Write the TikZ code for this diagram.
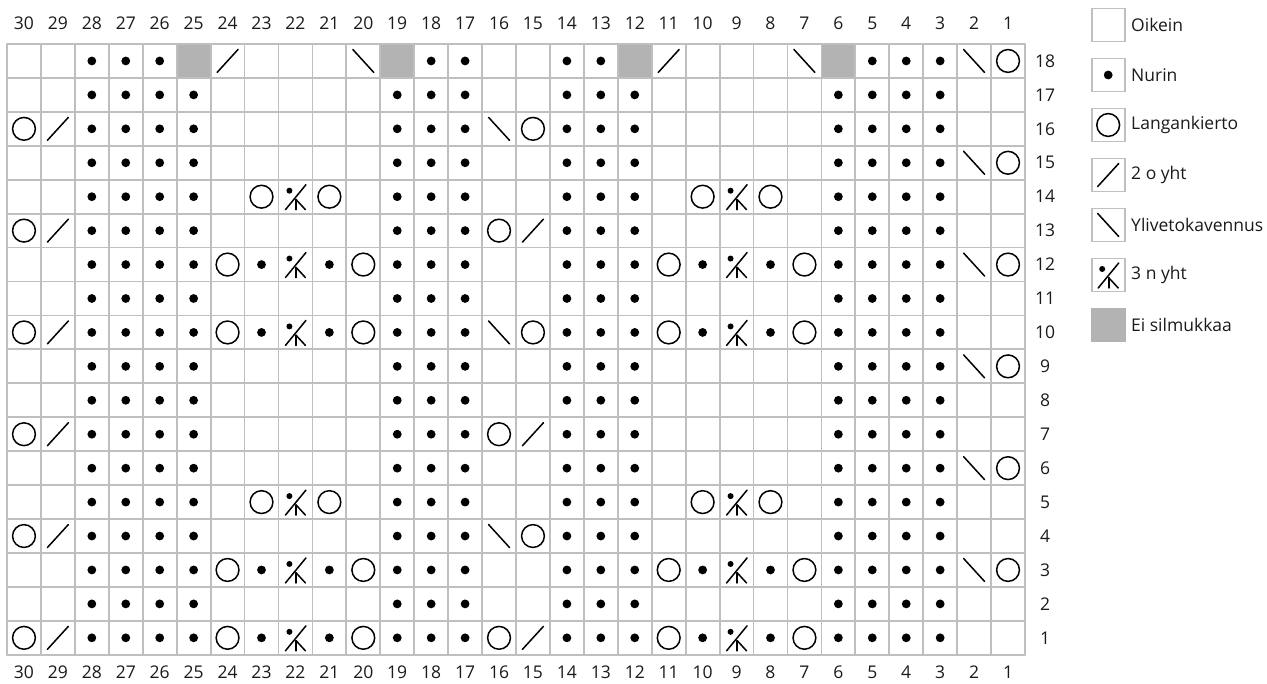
\documentclass[tikz,border=0pt]{standalone}
\usepackage{fontspec}
\setmainfont{Open Sans}
\definecolor{gridgray}{HTML}{BFBFBF}
\definecolor{nostgray}{HTML}{B3B3B3}
\definecolor{labelcol}{HTML}{1A1A1A}
\begin{document}
\begin{tikzpicture}[x=1pt,y=-1pt,line cap=round]
\useasboundingbox (0,0) rectangle (1267,684);
\def\cw{33.933}
\tikzset{
  gridln/.style={draw=gridgray,line width=1.8pt},
  sym/.style={line width=1.5pt,draw=black},
  lbl/.style={font=\fontsize{17.5}{21}\selectfont,text=labelcol,inner sep=0pt},
  legbox/.style={draw=gridgray,line width=1.8pt,minimum size=33pt,inner sep=0pt},
  pics/purl/.style={code={\fill[black] (0,0) circle (4.4);}},
  pics/yo/.style={code={\draw[sym] (0,0) circle (11.4);}},
  pics/ktwo/.style={code={\draw[sym] (-10.5,11.5) -- (10.5,-11.5);}},
  pics/ssk/.style={code={\draw[sym] (-10.5,-11.5) -- (10.5,11.5);}},
  pics/pthree/.style={code={
      \fill[black] (-6,-6) circle (3);
      \draw[sym] (10.5,-12) -- (-10,13);
      \draw[sym] (0.6,2.8) -- (0.6,13);
      \draw[sym] (0.6,2.8) -- (10,13);}},
}
% no-stitch cells
\foreach \c in {25,19,12,6}
  \fill[nostgray] ({7+(30-\c)*\cw},44) rectangle ++(\cw,\cw);
% grid
\foreach \i in {0,...,30}
  \draw[gridln] ({7+\i*\cw},44) -- ({7+\i*\cw},{44+18*\cw});
\foreach \j in {0,...,18}
  \draw[gridln] (7,{44+\j*\cw}) -- ({7+30*\cw},{44+\j*\cw});
% purl stitches
\foreach \r in {1,...,17}
  \foreach \c in {28,27,26,25,19,18,17,14,13,12,6,5,4,3}
    \pic at ({7+(30.5-\c)*\cw},{44+(18.5-\r)*\cw}) {purl};
\foreach \c in {28,27,26,18,17,14,13,5,4,3}
  \pic at ({7+(30.5-\c)*\cw},{44+0.5*\cw}) {purl};
\foreach \r in {12,10,3,1}
  \foreach \c in {23,21,10,8}
    \pic at ({7+(30.5-\c)*\cw},{44+(18.5-\r)*\cw}) {purl};
% yarn overs
\foreach \c/\r in {1/18,30/16,15/16,1/15,23/14,21/14,10/14,8/14,30/13,16/13,
  24/12,20/12,11/12,7/12,1/12,30/10,24/10,20/10,15/10,11/10,7/10,1/9,
  30/7,16/7,1/6,23/5,21/5,10/5,8/5,30/4,15/4,24/3,20/3,11/3,7/3,1/3,
  30/1,24/1,20/1,16/1,11/1,7/1}
  \pic at ({7+(30.5-\c)*\cw},{44+(18.5-\r)*\cw}) {yo};
% k2tog
\foreach \c/\r in {24/18,11/18,29/16,29/13,15/13,29/10,29/7,15/7,29/4,29/1,15/1}
  \pic at ({7+(30.5-\c)*\cw},{44+(18.5-\r)*\cw}) {ktwo};
% ssk
\foreach \c/\r in {20/18,7/18,2/18,16/16,2/15,2/12,16/10,2/9,2/6,16/4,2/3}
  \pic at ({7+(30.5-\c)*\cw},{44+(18.5-\r)*\cw}) {ssk};
% p3tog
\foreach \r in {14,12,10,5,3,1}
  \foreach \c in {22,9}
    \pic at ({7+(30.5-\c)*\cw},{44+(18.5-\r)*\cw}) {pthree};
% labels
\foreach \c in {1,...,30} {
  \node[lbl] (top\c) at ({7+(30.5-\c)*\cw},23) {\c};
  \node[lbl] (bot\c) at ({7+(30.5-\c)*\cw},672) {\c};
}
\foreach \r in {1,...,18}
  \node[lbl] (row\r) at (1045,{44+(18.5-\r)*\cw}) {\r};
% legend
\node[legbox] (l1) at (1108.2,25) {};
\node[legbox] (l2) at (1108.2,75) {};
\node[legbox] (l3) at (1108.2,125) {};
\node[legbox] (l4) at (1108.2,175) {};
\node[legbox] (l5) at (1108.2,225) {};
\node[legbox] (l6) at (1108.2,275) {};
\node[legbox,fill=nostgray,draw=nostgray] (l7) at (1108.2,325) {};
\pic at (l2.center) {purl};
\pic at (l3.center) {yo};
\pic at (l4.center) {ktwo};
\pic at (l5.center) {ssk};
\pic at (l6.center) {pthree};
\node[lbl,anchor=west] (t1) at (1131,25) {Oikein};
\node[lbl,anchor=west] (t2) at (1131,75) {Nurin};
\node[lbl,anchor=west] (t3) at (1131,125) {Langankierto};
\node[lbl,anchor=west] (t4) at (1131,175) {2 o yht};
\node[lbl,anchor=west] (t5) at (1131,225) {Ylivetokavennus};
\node[lbl,anchor=west] (t6) at (1131,275) {3 n yht};
\node[lbl,anchor=west] (t7) at (1131,325) {Ei silmukkaa};
\end{tikzpicture}
\end{document}
